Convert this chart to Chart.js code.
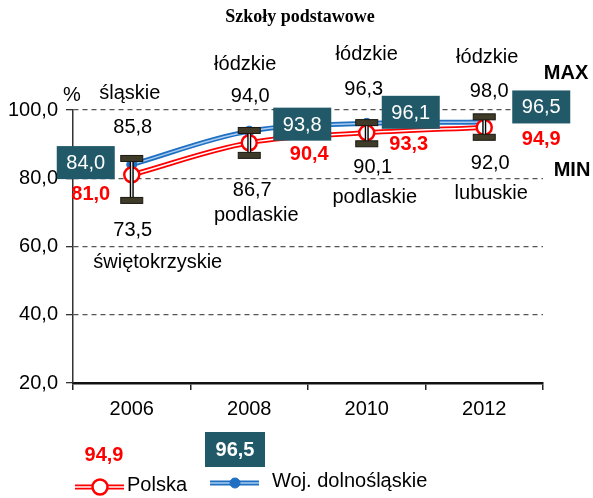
<!DOCTYPE html>
<html>
<head>
<meta charset="utf-8">
<script src="https://cdn.jsdelivr.net/npm/chart.js@4.4.0/dist/chart.umd.min.js"></script>
<style>
html,body{margin:0;padding:0;background:#fff;}
canvas{display:block;}
</style>
</head>
<body>
<canvas id="c" width="593" height="498"></canvas>
<script>
// ---- data ----
const categories = ['2006', '2008', '2010', '2012'];
const polska = [81.0, 90.4, 93.3, 94.9];
const dolnoslaskie = [84.0, 93.8, 96.1, 96.5];
const maxVals = [85.8, 94.0, 96.3, 98.0];
const minVals = [73.5, 86.7, 90.1, 92.0];
const maxRegions = ['śląskie', 'łódzkie', 'łódzkie', 'łódzkie'];
const minRegions = ['świętokrzyskie', 'podlaskie', 'podlaskie', 'lubuskie'];
const yTicks = [20, 40, 60, 80, 100];
const legendPolskaValue = 94.9;
const legendWojValue = 96.5;
const titleText = 'Szkoły podstawowe';

// ---- styles ----
const RED = '#ff0000';
const BLUE = '#1f6fc2';
const BLUE_LIGHT = '#a9cdee';
const BOX = '#215968';
const CAP = '#3e3b29';
const FONT = '"Liberation Sans", Arial, sans-serif';
const FS = 20;
const fmt = v => v.toFixed(1).replace('.', ',');

// label offsets relative to category/value pixel
const maxNumOff = [[1, -31], [1, -34], [-3, -33], [5, -25]];
const maxRegOff = [[-2, -65], [-4, -66], [0, -68], [3, -59]];
const minNumOff = [[1, 30], [3, 35], [6, 24], [6, 26]];
const minRegOff = [[26, 62], [7, 60], [8, 54], [7, 56]];
const redOff = [[-41, 20], [60, 12], [42, 12], [57, 12]];
const boxOff = [[-46, -2], [53, -7], [44, -11], [57, -15]];

const overlay = {
  id: 'overlay',
  afterDatasetsDraw(chart) {
    const ctx = chart.ctx;
    const xs = chart.scales.x, ys = chart.scales.y;
    ctx.save();
    for (let i = 0; i < categories.length; i++) {
      const x = xs.getPixelForValue(i);
      const yT = ys.getPixelForValue(maxVals[i]);
      const yB = ys.getPixelForValue(minVals[i]);
      ctx.strokeStyle = '#000';
      ctx.lineWidth = 4;
      ctx.beginPath(); ctx.moveTo(x, yT); ctx.lineTo(x, yB); ctx.stroke();
      ctx.strokeStyle = '#fff';
      ctx.lineWidth = 1.2;
      ctx.beginPath(); ctx.moveTo(x, yT); ctx.lineTo(x, yB); ctx.stroke();
      [yT, yB].forEach(y => {
        ctx.fillStyle = CAP;
        ctx.fillRect(x - 11, y - 3, 22, 6);
        ctx.strokeStyle = '#1a1810';
        ctx.lineWidth = 1;
        ctx.strokeRect(x - 11, y - 3, 22, 6);
      });
    }
    ctx.restore();
  },
  afterDraw(chart) {
    const ctx = chart.ctx;
    const xs = chart.scales.x, ys = chart.scales.y;
    ctx.save();
    ctx.textAlign = 'center';
    ctx.textBaseline = 'middle';
    // title
    ctx.fillStyle = '#000';
    ctx.font = 'bold 18px "Liberation Serif", "Times New Roman", serif';
    ctx.fillText(titleText, 300, 17);
    // % and MAX / MIN
    ctx.font = FS + 'px ' + FONT;
    ctx.fillText('%', 72, 95);
    ctx.font = 'bold ' + FS + 'px ' + FONT;
    ctx.fillText('MAX', 566, 73);
    ctx.fillText('MIN', 572, 170);

    for (let i = 0; i < categories.length; i++) {
      const x = xs.getPixelForValue(i);
      const yT = ys.getPixelForValue(maxVals[i]);
      const yB = ys.getPixelForValue(minVals[i]);
      ctx.fillStyle = '#000';
      ctx.font = FS + 'px ' + FONT;
      ctx.fillText(fmt(maxVals[i]), x + maxNumOff[i][0], yT + maxNumOff[i][1]);
      ctx.fillText(maxRegions[i], x + maxRegOff[i][0], yT + maxRegOff[i][1]);
      ctx.fillText(fmt(minVals[i]), x + minNumOff[i][0], yB + minNumOff[i][1]);
      ctx.fillText(minRegions[i], x + minRegOff[i][0], yB + minRegOff[i][1]);

      const yr = ys.getPixelForValue(polska[i]);
      ctx.fillStyle = RED;
      ctx.font = 'bold ' + FS + 'px ' + FONT;
      ctx.fillText(fmt(polska[i]), x + redOff[i][0], yr + redOff[i][1]);

      const yb = ys.getPixelForValue(dolnoslaskie[i]);
      const bx = x + boxOff[i][0], by = yb + boxOff[i][1];
      ctx.fillStyle = BOX;
      ctx.fillRect(bx - 29, by - 16.5, 58, 33);
      ctx.fillStyle = '#fff';
      ctx.font = FS + 'px ' + FONT;
      ctx.fillText(fmt(dolnoslaskie[i]), bx, by + 1);
    }

    // bottom stray labels
    ctx.fillStyle = RED;
    ctx.font = 'bold ' + FS + 'px ' + FONT;
    ctx.fillText(fmt(legendPolskaValue), 104, 455);
    ctx.fillStyle = BOX;
    ctx.fillRect(205, 432, 60, 35);
    ctx.fillStyle = '#fff';
    ctx.fillText(fmt(legendWojValue), 235, 450);

    // legend
    const ds = chart.data.datasets;
    const legendItems = [
      { x: 75, y: 487, line: ds[2].borderColor, stripe: ds[3].borderColor, pt: ds[5], label: ds[5].label },
      { x: 210, y: 483, line: ds[0].borderColor, stripe: ds[1].borderColor, pt: ds[4], label: ds[4].label }
    ];
    legendItems.forEach((it, k) => {
      ctx.strokeStyle = it.line; ctx.lineWidth = 5;
      ctx.beginPath(); ctx.moveTo(it.x, it.y); ctx.lineTo(it.x + 49, it.y); ctx.stroke();
      ctx.strokeStyle = it.stripe; ctx.lineWidth = 1.5;
      ctx.beginPath(); ctx.moveTo(it.x, it.y); ctx.lineTo(it.x + 49, it.y); ctx.stroke();
      ctx.beginPath(); ctx.arc(it.x + 25, it.y, it.pt.pointRadius, 0, Math.PI * 2);
      ctx.fillStyle = it.pt.pointBackgroundColor; ctx.fill();
      ctx.strokeStyle = it.pt.pointBorderColor; ctx.lineWidth = it.pt.pointBorderWidth; ctx.stroke();
      ctx.fillStyle = '#000';
      ctx.font = FS + 'px ' + FONT;
      ctx.textAlign = 'left';
      ctx.fillText(it.label, it.x + (k === 0 ? 52 : 62), it.y - 2);
    });
    ctx.restore();
  }
};

new Chart(document.getElementById('c'), {
  type: 'line',
  data: {
    labels: categories,
    datasets: [
      { label: 'Woj. dolnośląskie', data: dolnoslaskie, borderColor: BLUE, borderWidth: 5, pointRadius: 0, tension: 0.35, order: 6 },
      { label: 'Woj. dolnośląskie', data: dolnoslaskie, borderColor: BLUE_LIGHT, borderWidth: 1.5, pointRadius: 0, tension: 0.35, order: 5 },
      { label: 'Polska', data: polska, borderColor: RED, borderWidth: 5, pointRadius: 0, tension: 0.35, order: 4 },
      { label: 'Polska', data: polska, borderColor: '#ffffff', borderWidth: 1.5, pointRadius: 0, tension: 0.35, order: 3 },
      { label: 'Woj. dolnośląskie', data: dolnoslaskie, showLine: false, pointRadius: 5, pointBackgroundColor: BLUE, pointBorderColor: BLUE, pointBorderWidth: 1, order: 2 },
      { label: 'Polska', data: polska, showLine: false, pointRadius: 7.5, pointBackgroundColor: '#ffffff', pointBorderColor: RED, pointBorderWidth: 2.5, order: 1 }
    ]
  },
  options: {
    responsive: false,
    animation: false,
    events: [],
    layout: { padding: { top: 110, right: 50, left: 0, bottom: 0 } },
    plugins: { legend: { display: false }, title: { display: false }, tooltip: { enabled: false } },
    scales: {
      x: {
        offset: true,
        grid: { offset: true, drawOnChartArea: false, drawTicks: true, tickLength: 7, color: '#222', lineWidth: 1.5 },
        border: { color: '#111', width: 2.5 },
        ticks: { color: '#000', font: { family: FONT, size: FS }, padding: 7, maxRotation: 0 },
        afterFit(s) { s.height = 115; }
      },
      y: {
        min: 20, max: 100,
        afterBuildTicks(s) { s.ticks = yTicks.map(v => ({ value: v })); },
        grid: { color: '#555', lineWidth: 1.3, tickLength: 7, tickBorderDash: [], tickColor: '#333' },
        border: { color: '#333', width: 1.5, dash: [5, 4] },
        ticks: { color: '#000', font: { family: FONT, size: FS }, padding: 8, callback: v => fmt(v) },
        afterFit(s) { s.width = 73; }
      }
    }
  },
  plugins: [overlay]
});
</script>
</body>
</html>
